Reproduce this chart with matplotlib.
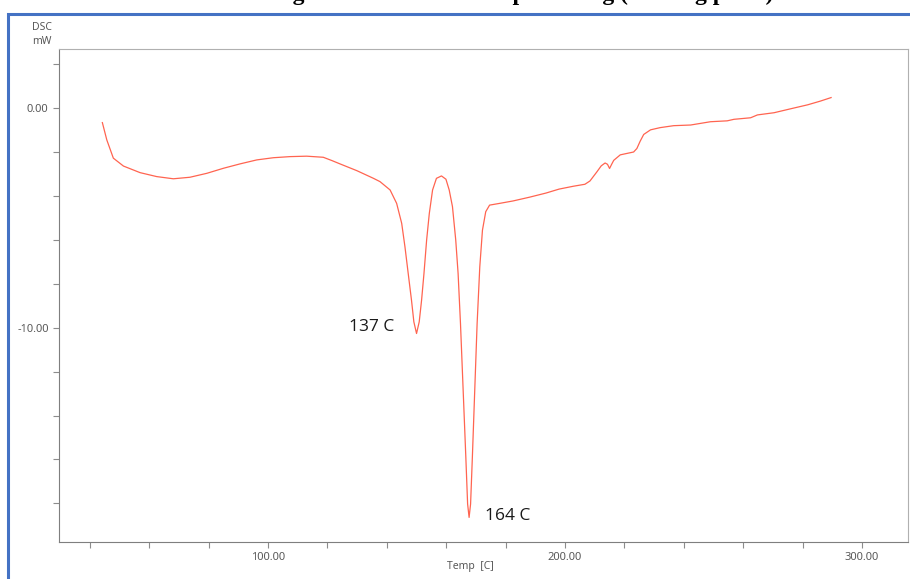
import matplotlib.pyplot as plt
from matplotlib.patches import Rectangle
from matplotlib.ticker import MultipleLocator, FormatStrFormatter

# === DADOS ===
temp = [44.2, 45.7, 47.9, 51.3, 56.9, 62.5, 68.1, 73.7, 79.4, 85.0, 90.6, 96.2,
        101.8, 107.4, 113.0, 118.6, 121.5, 124.2, 129.9, 135.5, 137.7, 141.1,
        143.3, 145.0, 146.1, 147.2, 148.3, 149.1, 150.0, 150.9, 151.7, 152.5,
        153.4, 154.3, 155.4, 156.7, 158.4, 159.9, 161.0, 162.1, 163.2, 164.0,
        164.8, 165.7, 166.6, 167.2, 167.7, 168.2, 168.8, 169.6, 170.4, 171.3,
        172.2, 173.3, 174.6, 178.0, 182.5, 188.0, 193.6, 198.0, 202.8,
        206.7, 208.4, 210.7, 212.2, 213.5, 214.3, 215.0, 215.7, 216.4, 218.6,
        221.0, 223.1, 224.2, 225.3, 226.5, 228.8, 232.0, 236.6, 242.3, 249.0,
        254.6, 256.9, 262.5, 264.8, 270.4, 276.0, 281.7, 286.0, 289.6]
dsc = [-0.65, -1.44, -2.27, -2.63, -2.93, -3.11, -3.21, -3.14, -2.96, -2.73, -2.53, -2.35,
       -2.25, -2.20, -2.18, -2.23, -2.38, -2.53, -2.84, -3.19, -3.34, -3.72,
       -4.33, -5.24, -6.31, -7.53, -8.74, -9.73, -10.26, -9.73, -8.74, -7.53,
       -6.00, -4.79, -3.72, -3.19, -3.08, -3.23, -3.72, -4.48, -6.00, -7.53,
       -9.81, -12.85, -15.90, -18.03, -18.64, -18.03, -15.90, -12.85, -9.81, -7.22,
       -5.55, -4.71, -4.41, -4.33, -4.22, -4.05, -3.86, -3.68, -3.55,
       -3.46, -3.31, -2.90, -2.62, -2.49, -2.55, -2.74, -2.55, -2.37, -2.12,
       -2.05, -1.99, -1.83, -1.50, -1.19, -0.98, -0.88, -0.79, -0.76, -0.61,
       -0.57, -0.50, -0.43, -0.30, -0.20, -0.02, 0.16, 0.33, 0.49]

rotulos_picos = ['137 C', '164 C']
pos_rotulos_x = [127.3, 173.1]
pos_rotulos_y = [-9.98, -18.56]

titulo = 'DSC thermogram of the standard pure drug (Melting point)'

# === GRAFICO ===
fig = plt.figure(figsize=(9.1, 5.79), dpi=100)
ax = fig.add_axes([59 / 910, 1 - 542 / 579, 849 / 910, (542 - 49.3) / 579])

ax.plot(temp, dsc, color='#FF6450', linewidth=0.9)

ax.set_xlim(29.6, 315.5)
ax.set_ylim(-19.76, 2.69)

ax.xaxis.set_major_locator(MultipleLocator(100))
ax.xaxis.set_minor_locator(MultipleLocator(20))
ax.yaxis.set_major_locator(MultipleLocator(10))
ax.yaxis.set_minor_locator(MultipleLocator(2))
ax.xaxis.set_major_formatter(FormatStrFormatter('%.2f'))
ax.yaxis.set_major_formatter(FormatStrFormatter('%.2f'))
ax.tick_params(which='both', direction='out', length=4, width=0.8,
               color='#8c8c8c', labelcolor='#595959', labelsize=8)
for lab in ax.get_xticklabels() + ax.get_yticklabels():
    lab.set_family('Noto Sans')

for lado in ['left', 'bottom']:
    ax.spines[lado].set_color('#7f7f7f')
for lado in ['right', 'top']:
    ax.spines[lado].set_color('#b0b0b0')

for txt, x, y in zip(rotulos_picos, pos_rotulos_x, pos_rotulos_y):
    ax.text(x, y, txt, fontsize=12.5, family='Open Sans', color='#1a1a1a',
            ha='left', va='center')

fig.text(42 / 910, 1 - 27 / 579, 'DSC', ha='center', va='center',
         fontsize=7.5, color='#595959', family='Noto Sans')
fig.text(42 / 910, 1 - 42 / 579, 'mW', ha='center', va='center',
         fontsize=7.5, color='#595959', family='Noto Sans')
fig.text(470 / 910, 1 - 566 / 579, 'Temp  [C]', ha='center', va='center',
         fontsize=7.5, color='#595959', family='Noto Sans')

# titulo cortado no topo, como no original (so aparecem as partes de baixo das letras)
fig.text(470 / 910, 1.0, titulo, ha='center', va='baseline',
         fontsize=17, fontweight='bold', family='Liberation Serif', color='black')

# moldura azul
fig.patches.append(Rectangle((8 / 910, -0.05), 1.0, 1 - 13.5 / 579 + 0.05,
                             transform=fig.transFigure, fill=False,
                             edgecolor='#4472C4', linewidth=2.2))

fig.savefig('out.png', dpi=100)
